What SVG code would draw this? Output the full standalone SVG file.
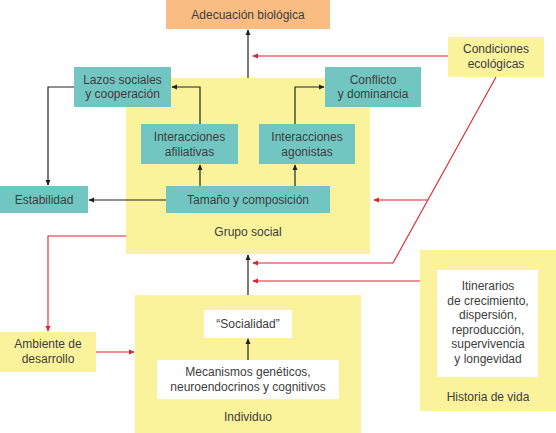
<svg xmlns="http://www.w3.org/2000/svg" width="556" height="433" viewBox="0 0 556 433">
<defs>
<style>
.t{font-family:"Liberation Sans",Arial,sans-serif;font-size:12px;fill:#3d3d3d;text-anchor:middle}
.teal{fill:#72C6C1}
.yel{fill:#FBF29C}
.wht{fill:#FFFFFF}
.blk{fill:none;stroke:#222;stroke-width:1.2}
.red{fill:none;stroke:#E3212B;stroke-width:1.1}
</style>
<marker id="ab" viewBox="0 0 8 8" refX="7" refY="4" markerWidth="6" markerHeight="6" orient="auto" markerUnits="userSpaceOnUse"><path d="M0,0.5 L8,4 L0,7.5 Z" fill="#222"/></marker>
<marker id="ar" viewBox="0 0 8 8" refX="7" refY="4" markerWidth="6" markerHeight="6" orient="auto" markerUnits="userSpaceOnUse"><path d="M0,0.5 L8,4 L0,7.5 Z" fill="#E3212B"/></marker>
</defs>
<rect width="556" height="433" fill="#fff"/>
<g id="grupo-social">
<rect class="yel" x="126" y="78" width="244" height="176"/>
<text class="t" x="248" y="236">Grupo social</text>
</g>
<g id="individuo">
<rect class="yel" x="135" y="295" width="226" height="138"/>
<text class="t" x="248" y="421">Individuo</text>
</g>
<g id="historia">
<rect class="yel" x="420" y="250" width="136" height="161"/>
<rect class="wht" x="437" y="270" width="101" height="107"/>
<text class="t" x="488" y="290">Itinerarios</text>
<text class="t" x="488" y="304.5">de crecimiento,</text>
<text class="t" x="488" y="319">dispersión,</text>
<text class="t" x="488" y="333.5">reproducción,</text>
<text class="t" x="488" y="348">supervivencia</text>
<text class="t" x="488" y="362.5">y longevidad</text>
<text class="t" x="488" y="401">Historia de vida</text>
</g>
<g id="adecuacion">
<rect x="166" y="0" width="164" height="29" fill="#F9BC82"/>
<text class="t" x="248" y="19">Adecuación biológica</text>
</g>
<g id="condiciones">
<rect class="yel" x="448" y="37" width="96" height="40"/>
<text class="t" x="496" y="53">Condiciones</text>
<text class="t" x="496" y="68">ecológicas</text>
</g>
<g id="lazos">
<rect class="teal" x="74" y="67" width="97" height="40"/>
<text class="t" x="122.5" y="84">Lazos sociales</text>
<text class="t" x="122.5" y="98">y cooperación</text>
</g>
<g id="conflicto">
<rect class="teal" x="325" y="67" width="96" height="40"/>
<text class="t" x="373" y="84">Conflicto</text>
<text class="t" x="373" y="98">y dominancia</text>
</g>
<g id="afiliativas">
<rect class="teal" x="141" y="124" width="97" height="40"/>
<text class="t" x="189.5" y="141">Interacciones</text>
<text class="t" x="189.5" y="156">afiliativas</text>
</g>
<g id="agonistas">
<rect class="teal" x="259" y="124" width="96" height="40"/>
<text class="t" x="307" y="141">Interacciones</text>
<text class="t" x="307" y="156">agonistas</text>
</g>
<g id="tamano">
<rect class="teal" x="166" y="186" width="164" height="27"/>
<text class="t" x="248" y="204">Tamaño y composición</text>
</g>
<g id="estabilidad">
<rect class="teal" x="0" y="186" width="88" height="27"/>
<text class="t" x="44" y="204">Estabilidad</text>
</g>
<g id="ambiente">
<rect class="yel" x="0" y="332" width="96" height="40"/>
<text class="t" x="48" y="348">Ambiente de</text>
<text class="t" x="48" y="363">desarrollo</text>
</g>
<g id="socialidad">
<rect class="wht" x="204" y="310" width="88" height="28"/>
<text class="t" x="248" y="328">“Socialidad”</text>
</g>
<g id="mecanismos">
<rect class="wht" x="157" y="360" width="182" height="39"/>
<text class="t" x="248" y="376">Mecanismos genéticos,</text>
<text class="t" x="248" y="391">neuroendocrinos y cognitivos</text>
</g>
<g id="connectors">
<path class="blk" d="M248,78 V30" marker-end="url(#ab)"/>
<path class="blk" d="M200,186 V165" marker-end="url(#ab)"/>
<path class="blk" d="M200,124 V87 H172" marker-end="url(#ab)"/>
<path class="blk" d="M295,186 V165" marker-end="url(#ab)"/>
<path class="blk" d="M295,124 V87 H324" marker-end="url(#ab)"/>
<path class="blk" d="M74,87 H48 V185" marker-end="url(#ab)"/>
<path class="blk" d="M166,200 H89" marker-end="url(#ab)"/>
<path class="blk" d="M248,295 V255" marker-end="url(#ab)"/>
<path class="blk" d="M248,360 V339" marker-end="url(#ab)"/>
<path class="red" d="M448,56 H253" marker-end="url(#ar)"/>
<path class="red" d="M496,77 L393,263 H253" marker-end="url(#ar)"/>
<path class="red" d="M428,200 H374" marker-end="url(#ar)"/>
<path class="red" d="M420,281 H253" marker-end="url(#ar)"/>
<path class="red" d="M126,236 H48 V331" marker-end="url(#ar)"/>
<path class="red" d="M96,352 H134" marker-end="url(#ar)"/>
</g>
</svg>
